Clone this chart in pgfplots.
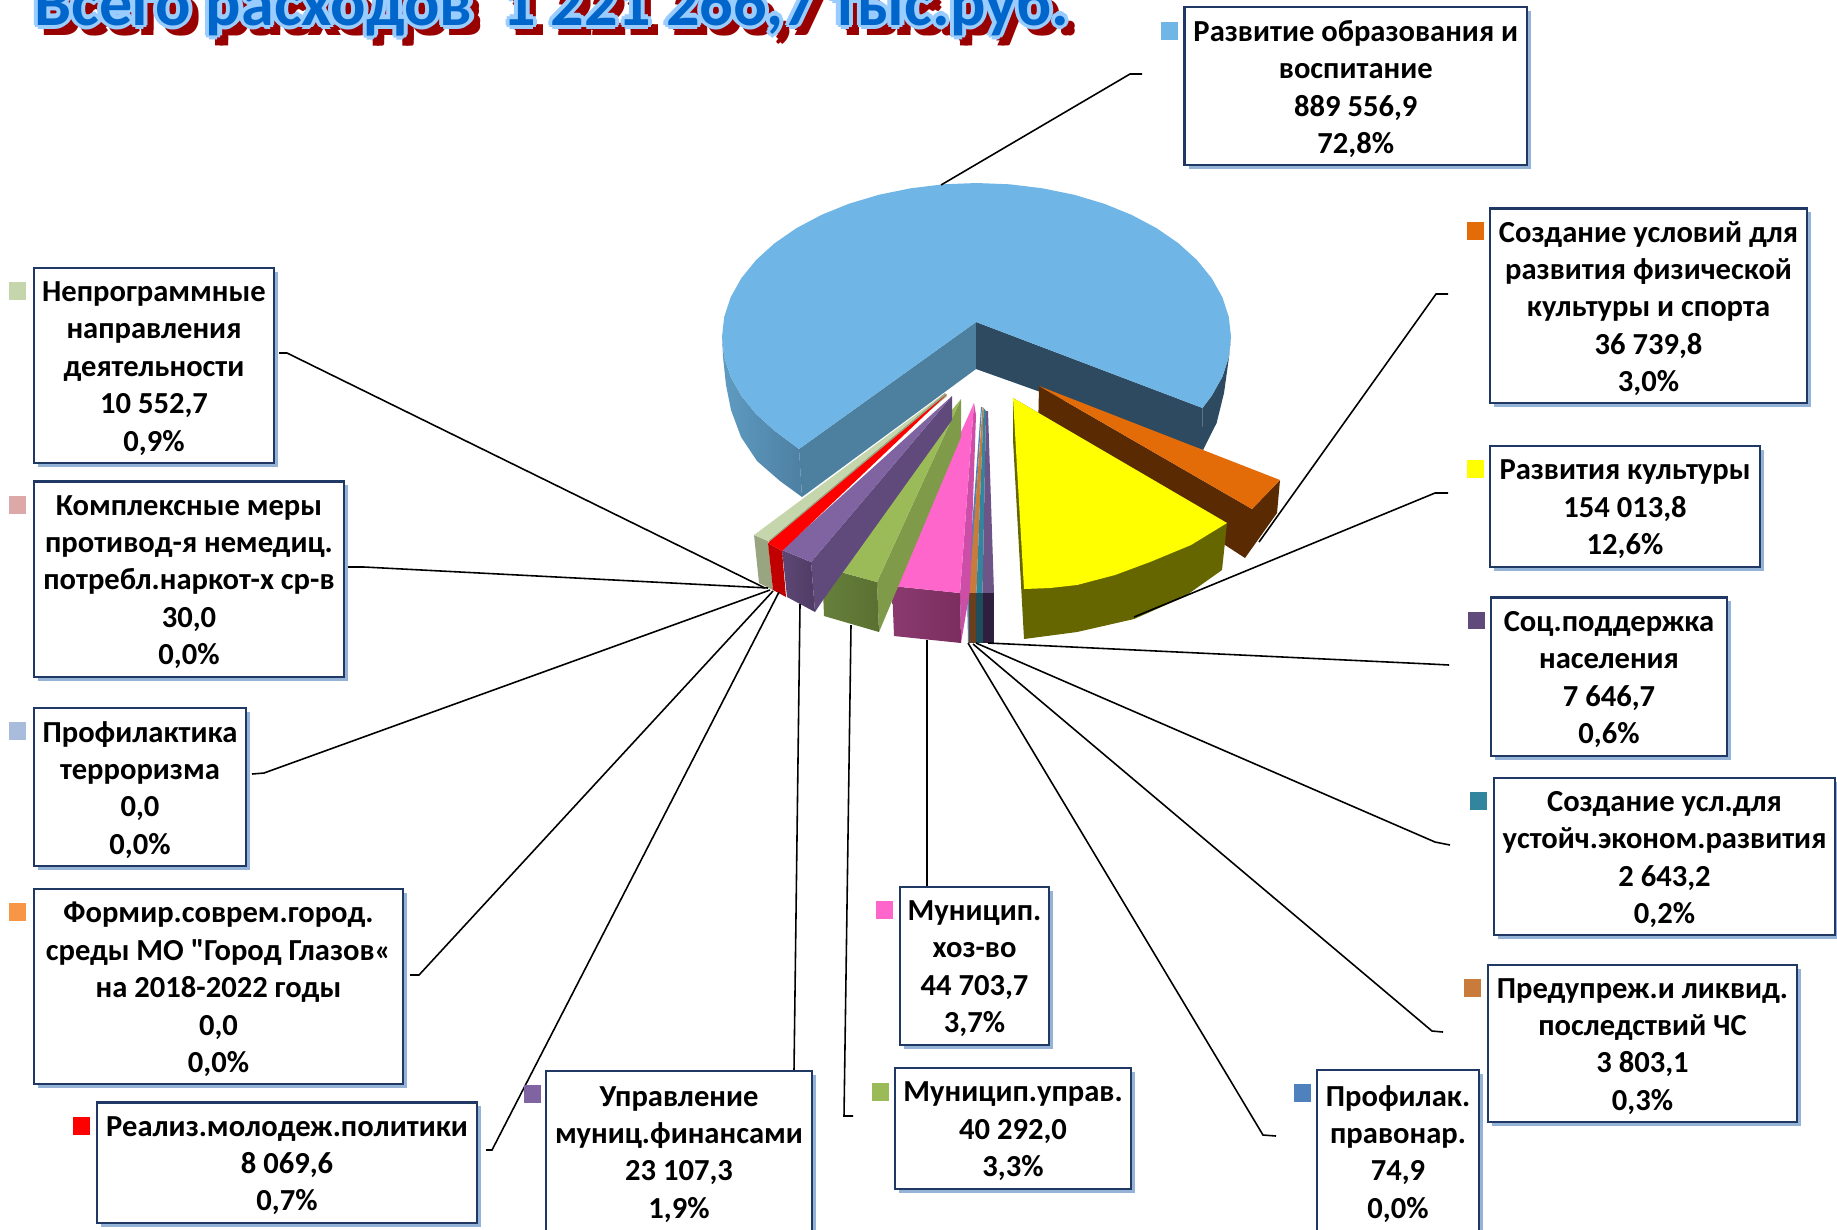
\documentclass[border=0pt]{standalone}
\usepackage{fontspec}
\setmainfont{Carlito}[Ligatures=TeXOff]
\usepackage{pgfplots}
\pgfplotsset{compat=1.18}

\definecolor{skyb}{HTML}{6FB5E5}
\definecolor{navyface}{HTML}{2D4A60}
\definecolor{boxline}{HTML}{1F3864}
\definecolor{boxshade}{HTML}{95B3D7}
\definecolor{sport}{HTML}{E36C09}
\definecolor{sportd}{HTML}{5A2A02}
\definecolor{cult}{HTML}{FFFF00}
\definecolor{olive2}{HTML}{666600}
\definecolor{pinkt}{HTML}{FF66CC}
\definecolor{pinks}{HTML}{CC4EA6}
\definecolor{greent}{HTML}{9BBB59}
\definecolor{greens}{HTML}{7F9A48}
\definecolor{purt}{HTML}{8064A2}
\definecolor{purs}{HTML}{604A7B}
\definecolor{paleg}{HTML}{C6D6AC}
\definecolor{paled}{HTML}{98A580}
\definecolor{chsb}{HTML}{C87B3A}
\definecolor{tealt}{HTML}{31859C}
\definecolor{prav}{HTML}{4F81BD}
\definecolor{redt}{HTML}{FF0000}
\definecolor{ttlblue}{HTML}{0066CC}
\definecolor{ttlring}{HTML}{99CCFF}
\definecolor{ttlred}{HTML}{990000}

% label box in picture pixels: x0,y0,x1,y1,text
\newcommand{\lbox}[5]{%
  \fill[boxshade,xshift=1.2pt,yshift=-1pt] (axis cs:#1,#2) rectangle (axis cs:#3,#4);
  \draw[boxline,fill=white,line width=.7pt] (axis cs:#1,#2) rectangle (axis cs:#3,#4);
  \path (axis cs:#1,#2) -- (axis cs:#3,#4) node[pos=.5,yshift=-.8pt,align=center,text=black,inner sep=0pt,
    font=\fontsize{8.7}{10.65}\bfseries\selectfont] {#5};
}
% small colour square beside a box
\newcommand{\mk}[5]{%
  \addplot[fill=#5,draw=none] coordinates {(#1,#2) (#3,#2) (#3,#4) (#1,#4)} --cycle;
}
\newcommand{\lead}[1]{\addplot[black,line width=.45pt] coordinates {#1};}
% one copy of the title
\newcommand{\ttl}[3]{%
  \node[anchor=base west,inner sep=0pt,text=#3,xshift=#1pt,yshift=#2pt,
    font=\fontsize{18.8}{22}\bfseries\selectfont]
    at (axis cs:34,25) {Всего расходов\ \ 1 221 266,7 тыс.руб.};
}

\begin{document}
\begin{tikzpicture}
\path[use as bounding box] (0,0) rectangle (18.37cm,12.29cm);
\begin{axis}[
  at={(0,0)}, anchor=south west,
  scale only axis, width=18.37cm, height=12.29cm,
  xmin=0, xmax=1837, ymin=0, ymax=1229, y dir=reverse,
  hide axis, clip=true,
]
% big slice: walls, then top
\addplot[shade,left color={rgb,255:red,95;green,155;blue,193},right color={rgb,255:red,77;green,128;blue,163},draw=none] coordinates {
  (722,337) (724.2,357.1) (730.7,376.9) (741.4,395.9) (756.1,414) (774.6,430.8) (799,449)
  (802,497) (780,481) (757,461) (741,437) (731,410) (726,385) (723,357)} --cycle;
\addplot[fill={rgb,255:red,77;green,127;blue,159},draw=none] coordinates {(976,322) (799,449) (802,497) (976,369)} --cycle;
\addplot[fill=navyface,draw=none] coordinates {(976,322) (1202.5,408) (1203,450) (976,369)} --cycle;
\addplot[fill=navyface,draw=none] coordinates {
  (1202.5,408) (1211.6,395.9) (1222.3,376.9) (1228.8,357.1) (1231,337)
  (1229,357) (1224,393) (1216.6,423) (1203,450)} --cycle;
\addplot[fill=skyb,draw=none] coordinates {
  (976,322) (799,449) (774.6,430.8) (756.1,414) (741.4,395.9) (730.7,376.9) (724.2,357.1) (722,337)
  (724.2,316.9) (730.7,297.1) (741.4,278.1) (756.1,260) (774.6,243.2) (796.5,228.1) (821.6,214.8)
  (849.3,203.6) (879.1,194.7) (910.6,188.3) (943.3,184.3) (976.5,183) (1009.7,184.3) (1042.4,188.3)
  (1073.9,194.7) (1103.8,203.6) (1131.4,214.8) (1156.5,228.1) (1178.4,243.2) (1196.9,260)
  (1211.6,278.1) (1222.3,297.1) (1228.8,316.9) (1231,337) (1228.8,357.1) (1222.3,376.9)
  (1211.6,395.9) (1202.5,408)} --cycle;
% sport slice
\addplot[fill=sportd,draw=none] coordinates {(1039,386) (1252,509) (1280,480) (1277,513) (1245,558) (1225,545) (1038,432)} --cycle;
\addplot[fill=sport,draw=none] coordinates {(1039,386) (1280,480) (1252,509)} --cycle;
% culture slice
\addplot[fill=olive2,draw=none] coordinates {
  (1013,398) (1013,440) (1024,639) (1077,632) (1134,619) (1184,597) (1222,570) (1227,523)} --cycle;
\addplot[fill=cult,draw=none] coordinates {
  (1013,398) (1024,589) (1050,588) (1077,585) (1115,575) (1150,562) (1191,545) (1227,523)} --cycle;
% thin slices
\addplot[fill=prav,draw=none] coordinates {(981,407) (967,593) (968,643) (970,643) (970,593) (982,407)} --cycle;
\addplot[fill=chsb,draw=none] coordinates {(982.5,407) (969,593) (976.4,593) (983.6,408)} --cycle;
\addplot[fill={rgb,255:red,106;green,63;blue,29},draw=none] coordinates {(969,593) (976.4,593) (976.4,643) (969,643)} --cycle;
\addplot[fill=tealt,draw=none] coordinates {(983.6,408) (976.4,593) (982.5,593) (986,411)} --cycle;
\addplot[fill={rgb,255:red,30;green,78;blue,92},draw=none] coordinates {(976.4,593) (982.5,593) (982.5,643) (976.4,643)} --cycle;
\addplot[fill={rgb,255:red,109;green,85;blue,135},draw=none] coordinates {(986,411) (982.5,593) (994,593) (988,411)} --cycle;
\addplot[fill={rgb,255:red,45;green,31;blue,61},draw=none] coordinates {(982.5,593) (994,593) (994,643) (982.5,643)} --cycle;
% municipal economy
\addplot[fill=pinks,draw=none] coordinates {(974,403) (960,593) (961,643) (970,590) (976,415)} --cycle;
\addplot[shade,left color={rgb,255:red,139;green,58;blue,112},right color={rgb,255:red,122;green,46;blue,94},draw=none] coordinates {(892,586) (960,593) (961,643) (894,636)} --cycle;
\addplot[fill=pinkt,draw=none] coordinates {(974,403) (892,586) (960,593)} --cycle;
% municipal management
\addplot[fill=greens,draw=none] coordinates {(961,399) (877,582) (879,632) (961,437)} --cycle;
\addplot[shade,left color={rgb,255:red,103;green,128;blue,59},right color={rgb,255:red,90;green,112;blue,50},draw=none] coordinates {(822,567) (877,582) (879,632) (824,616)} --cycle;
\addplot[fill=greent,draw=none] coordinates {(961,399) (822,567) (877,582)} --cycle;
% finance management
\addplot[fill=purs,draw=none] coordinates {(952,396) (811,562) (815,612) (823,600) (952,420)} --cycle;
\addplot[shade,left color={rgb,255:red,94;green,70;blue,116},right color={rgb,255:red,79;green,61;blue,102},draw=none] coordinates {(782,550) (811,562) (815,612) (787,597)} --cycle;
\addplot[fill=purt,draw=none] coordinates {(952,396) (782,550) (811,562)} --cycle;
% non-programme and youth slices
\addplot[fill=paled,draw=none] coordinates {(754,535) (768,541) (773,590) (759,583)} --cycle;
\addplot[fill=paled,draw=none] coordinates {(945,393) (768,541) (772,544) (947,396)} --cycle;
\addplot[fill=paleg,draw=none] coordinates {(945,393) (754,535) (768,541)} --cycle;
\addplot[fill={rgb,255:red,192;green,0;blue,0},draw=none] coordinates {(768,543) (782,551) (786,597) (773,590)} --cycle;
\addplot[fill=redt,draw=none] coordinates {(947,394) (768,543) (782,551)} --cycle;
% leader lines
\lead{(1142,74) (1130,74) (941,185)}
\lead{(1448,294) (1436,294) (1259,542)}
\lead{(1448,493) (1435,493) (1134,617)}
\lead{(1449,665) (1430,664) (988,643)}
\lead{(1450,845) (1435,842) (976,643)}
\lead{(1443,1032) (1432,1031) (973,644)}
\lead{(1276,1136) (1263,1135) (968,643)}
\lead{(853,1116) (844,1116) (851,625)}
\lead{(927,887) (927,640)}
\lead{(794,1070) (800,604)}
\lead{(486,1150) (492,1150) (779,592)}
\lead{(410,975) (419,975) (773,591)}
\lead{(252,774) (264,773) (770,590)}
\lead{(348,567) (364,567) (768,588)}
\lead{(279,353) (287,353) (765,588)}
% label keys
\mk{1161}{22}{1178}{40}{skyb}
\mk{1467}{222}{1484}{240}{sport}
\mk{1467}{460}{1484}{478}{cult}
\mk{1468}{612}{1485}{629}{purs}
\mk{1470}{792}{1487}{810}{tealt}
\mk{1464}{979}{1481}{997}{chsb}
\mk{1294}{1084}{1311}{1102}{prav}
\mk{872}{1083}{889}{1101}{greent}
\mk{876}{901}{893}{919}{pinkt}
\mk{524}{1085}{541}{1103}{purt}
\mk{73}{1117}{90}{1135}{redt}
\mk{9}{903}{26}{921}{{rgb,255:red,247;green,150;blue,70}}
\mk{9}{722}{26}{740}{{rgb,255:red,169;green,188;blue,220}}
\mk{9}{496}{26}{514}{{rgb,255:red,220;green,168;blue,168}}
\mk{9}{282}{26}{300}{paleg}
% label boxes
\lbox{1184.5}{7}{1527}{165}{Развитие образования и\\воспитание\\889 556,9\\72,8\%}
\lbox{1490}{208.5}{1807}{403}{Создание условий для\\развития физической\\культуры и спорта\\36 739,8\\3,0\%}
\lbox{1490}{446}{1760}{567}{Развития культуры\\154 013,8\\12,6\%}
\lbox{1491}{597.5}{1727}{756}{Соц.поддержка\\населения\\7 646,7\\0,6\%}
\lbox{1494}{778}{1835}{935}{Создание усл.для\\устойч.эконом.развития\\2 643,2\\0,2\%}
\lbox{1488}{965}{1797}{1122}{Предупреж.и ликвид.\\последствий ЧС\\3 803,1\\0,3\%}
\lbox{1317}{1070}{1479}{1232}{Профилак.\\правонар.\\74,9\\0,0\%}
\lbox{895}{1068}{1131}{1189}{Муницип.управ.\\40 292,0\\3,3\%}
\lbox{900}{887}{1049}{1045}{Муницип.\\хоз-во\\44 703,7\\3,7\%}
\lbox{546}{1071}{812}{1232}{Управление\\муниц.финансами\\23 107,3\\1,9\%}
\lbox{97}{1102.5}{477}{1223}{Реализ.молодеж.политики\\8 069,6\\0,7\%}
\lbox{34}{889}{403}{1084}{Формир.соврем.город.\\среды МО "Город Глазов«\\на 2018-2022 годы\\0,0\\0,0\%}
\lbox{34}{708}{246}{866}{Профилактика\\терроризма\\0,0\\0,0\%}
\lbox{34}{481.5}{344}{677}{Комплексные меры\\противод-я немедиц.\\потребл.наркот-х ср-в\\30,0\\0,0\%}
\lbox{34}{268}{274}{463}{Непрограммные\\направления\\деятельности\\10 552,7\\0,9\%}
% title: shadow, outline, fill
\ttl{2.9}{-1.7}{ttlred}\ttl{1.7}{-2.9}{ttlred}\ttl{2.9}{-2.9}{ttlred}\ttl{1.6}{-1.6}{ttlred}
\ttl{1.2}{0}{ttlring}\ttl{-1.2}{0}{ttlring}\ttl{0}{1.2}{ttlring}\ttl{0}{-1.2}{ttlring}
\ttl{.85}{.85}{ttlring}\ttl{-.85}{.85}{ttlring}\ttl{.85}{-.85}{ttlring}\ttl{-.85}{-.85}{ttlring}
\ttl{0}{0}{ttlblue}
\end{axis}
\end{tikzpicture}
\end{document}
